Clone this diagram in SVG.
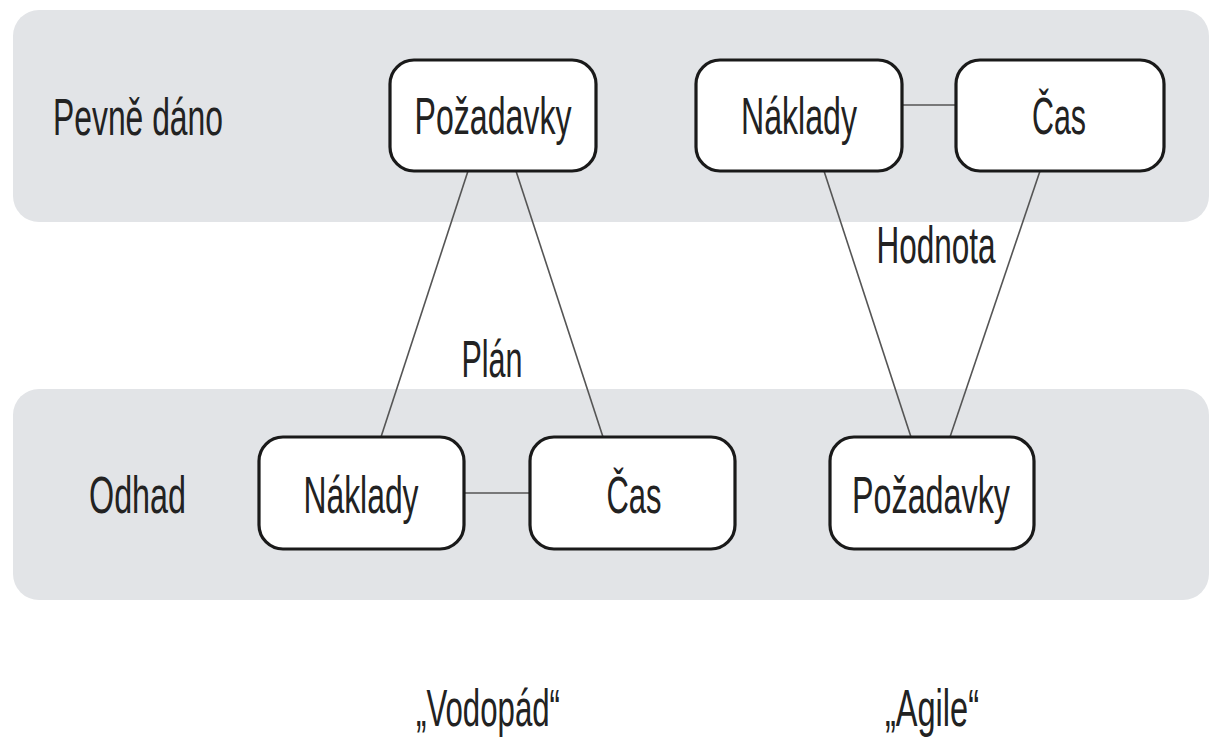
<svg xmlns="http://www.w3.org/2000/svg" width="1210" height="742" viewBox="0 0 1210 742">
<style>
.band{fill:#e2e4e7;}
.box{fill:#ffffff;stroke:#1a1a1a;stroke-width:3.2;}
.t{font-family:"Liberation Sans",Arial,sans-serif;font-size:52px;fill:#222;}
.c{text-anchor:middle;}
.ln{stroke:#555;stroke-width:1.6;fill:none;}
</style>
<rect width="1210" height="742" fill="#ffffff"/>
<g id="bands">
<rect class="band" x="13" y="10" width="1196" height="212" rx="26"/>
<rect class="band" x="13" y="389" width="1196" height="211" rx="26"/>
</g>
<g id="connectors">
<line class="ln" x1="468" y1="171" x2="381" y2="437"/>
<line class="ln" x1="516" y1="171" x2="603" y2="437"/>
<line class="ln" x1="464" y1="493" x2="530" y2="493"/>
<line class="ln" x1="824" y1="171" x2="911" y2="437"/>
<line class="ln" x1="1040" y1="171" x2="950" y2="437"/>
<line class="ln" x1="902" y1="105" x2="956" y2="105"/>
</g>
<g id="label-pevne"><text class="t" x="53" y="135" textLength="170" lengthAdjust="spacingAndGlyphs">Pevně dáno</text></g>
<g id="label-odhad"><text class="t" x="89" y="513" textLength="97" lengthAdjust="spacingAndGlyphs">Odhad</text></g>
<g id="node-pozadavky-top">
<rect class="box" x="390" y="60" width="206" height="111" rx="24"/>
<text class="t c" x="493" y="134" textLength="157" lengthAdjust="spacingAndGlyphs">Požadavky</text>
</g>
<g id="node-naklady-top">
<rect class="box" x="696" y="60" width="206" height="111" rx="24"/>
<text class="t c" x="799" y="134" textLength="116" lengthAdjust="spacingAndGlyphs">Náklady</text>
</g>
<g id="node-cas-top">
<rect class="box" x="956" y="60" width="208" height="111" rx="24"/>
<text class="t c" x="1059" y="134" textLength="54" lengthAdjust="spacingAndGlyphs">Čas</text>
</g>
<g id="node-naklady-bottom">
<rect class="box" x="259" y="437" width="205" height="112" rx="24"/>
<text class="t c" x="361" y="513" textLength="115" lengthAdjust="spacingAndGlyphs">Náklady</text>
</g>
<g id="node-cas-bottom">
<rect class="box" x="530" y="437" width="205" height="112" rx="24"/>
<text class="t c" x="634" y="513" textLength="55" lengthAdjust="spacingAndGlyphs">Čas</text>
</g>
<g id="node-pozadavky-bottom">
<rect class="box" x="830" y="437" width="204" height="112" rx="24"/>
<text class="t c" x="931" y="513" textLength="158" lengthAdjust="spacingAndGlyphs">Požadavky</text>
</g>
<g id="label-plan"><text class="t c" x="492" y="377" textLength="61" lengthAdjust="spacingAndGlyphs">Plán</text></g>
<g id="label-hodnota"><text class="t c" x="936" y="263" textLength="119" lengthAdjust="spacingAndGlyphs">Hodnota</text></g>
<g id="label-vodopad"><text class="t c" x="488" y="726" textLength="144" lengthAdjust="spacingAndGlyphs">„Vodopád“</text></g>
<g id="label-agile"><text class="t c" x="932" y="726" textLength="94" lengthAdjust="spacingAndGlyphs">„Agile“</text></g>
</svg>
